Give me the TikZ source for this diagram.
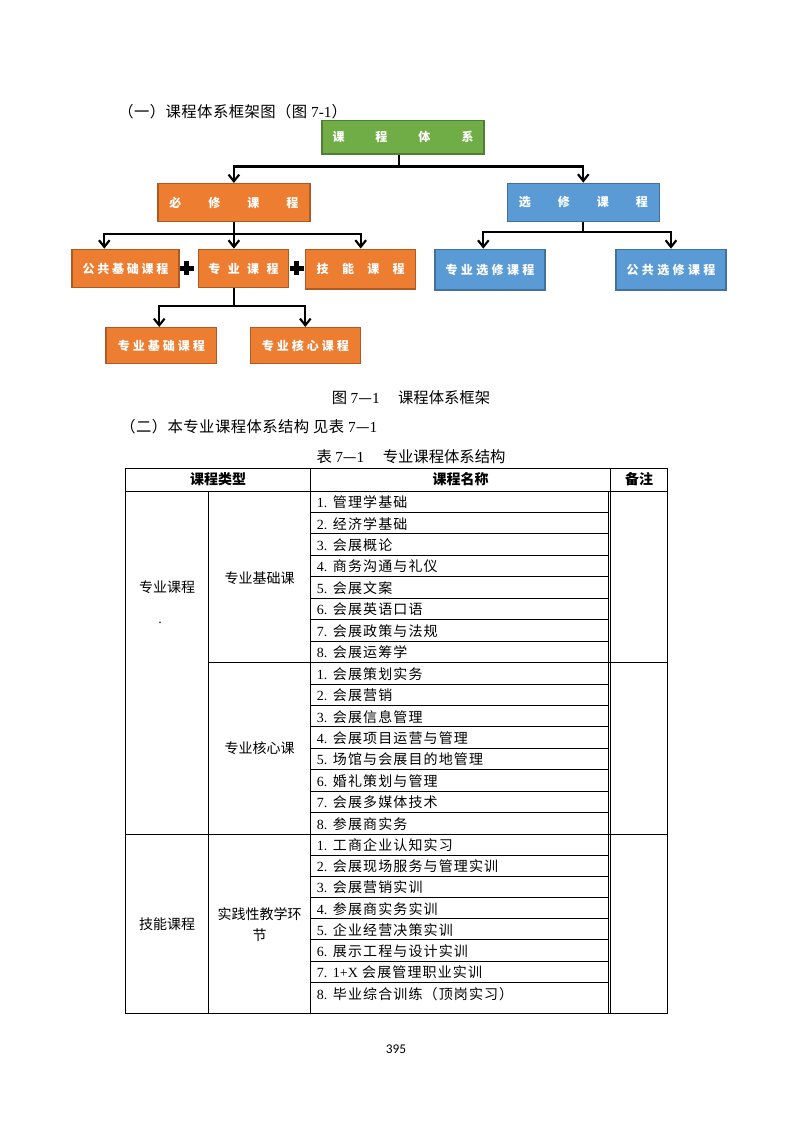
\documentclass[tikz,border=0pt]{standalone}
\usepackage{fontspec}
\setmainfont{Liberation Serif}
\newfontfamily\cjk{Noto Sans CJK SC}
\newfontfamily\cjkls[LetterSpace=8]{Noto Sans CJK SC}
\newfontfamily\cjklt[LetterSpace=3]{Noto Sans CJK SC}
\newfontfamily\pgnum{Carlito}
\usetikzlibrary{arrows.meta}
\definecolor{grn}{HTML}{70AD47}\definecolor{grnb}{HTML}{507E32}
\definecolor{org}{HTML}{ED7D31}\definecolor{orgb}{HTML}{AE5A21}
\definecolor{blu}{HTML}{5B9BD5}\definecolor{blub}{HTML}{41719C}
\makeatletter
\newcommand\lsp[2]{\def\lsp@gap{#1}\lsp@first#2\relax}
\def\lsp@first#1{#1\lsp@next}
\def\lsp@next#1{\ifx#1\relax\else\hspace{\lsp@gap}#1\expandafter\lsp@next\fi}
\makeatother
\begin{document}
\begin{tikzpicture}[x=0.75pt,y=-0.75pt,
  box/.style={draw, line width=1.1pt, inner sep=0, text=white,
    font=\cjk\bfseries\fontsize{9}{9}\selectfont},
  gbox/.style={box, fill=grn, draw=grnb},
  obox/.style={box, fill=org, draw=orgb},
  bbox/.style={box, fill=blu, draw=blub},
  bus/.style={line width=1.6pt},
  conn/.style={line width=1.6pt, -{Straight Barb[length=5pt,width=8pt]}},
  txt/.style={inner sep=0, font=\cjk\fontsize{11.5}{13}\selectfont},
  cell/.style={inner sep=0, align=center, font=\cjk\fontsize{10.5}{15.75}\selectfont},
  hdr/.style={inner sep=0, font=\cjk\bfseries\fontsize{10.5}{12}\selectfont},
  item/.style={inner sep=0, anchor=west, font=\cjkls\fontsize{10.5}{12}\selectfont},
  tline/.style={line width=0.75pt},
  crossmark/.style={fill=black}]
\fill[white] (0,0) rectangle (793,1122);

% ---------- heading ----------
\node[txt, font=\cjklt\fontsize{11.5}{13}\selectfont, anchor=west] (title1) at (118,111.7) {（一）课程体系框架图（图 {\rmfamily 7-1}）};

% ---------- framework boxes ----------
\node[gbox, minimum width=121.5pt, minimum height=25pt] (root) at (403,137.3) {\lsp{23.25pt}{课程体系}};
\node[obox, minimum width=114.2pt, minimum height=28.5pt] (bixiu) at (233.9,202.7) {\lsp{20.25pt}{必修课程}};
\node[bbox, minimum width=114pt, minimum height=28.8pt] (xuanxiu) at (583.3,202.5) {\lsp{20.25pt}{选修课程}};
\node[obox, minimum width=80.25pt, minimum height=28.8pt] (gjjc) at (125.5,268.5) {\lsp{2.1pt}{公共基础课程}};
\node[obox, minimum width=67.8pt, minimum height=28.8pt] (zykc) at (243.5,268.5) {\lsp{5.6pt}{专业课程}};
\node[obox, minimum width=82.5pt, minimum height=29.8pt] (jnkc) at (360.7,269.1) {\lsp{10pt}{技能课程}};
\node[bbox, minimum width=82.5pt, minimum height=30.5pt] (zyxx) at (490,269.7) {\lsp{2.5pt}{专业选修课程}};
\node[bbox, minimum width=82.5pt, minimum height=30.5pt] (ggxx) at (671,269.7) {\lsp{2.5pt}{公共选修课程}};
\node[obox, minimum width=83pt, minimum height=26.7pt] (zyjc) at (161.4,345.5) {\lsp{2.25pt}{专业基础课程}};
\node[obox, minimum width=82.5pt, minimum height=26.7pt] (zyhx) at (305.3,345.5) {\lsp{2.25pt}{专业核心课程}};

% plus marks
\fill[crossmark] (186.7,268.3) ++(-7,-2.6) rectangle ++(14,5.2);
\fill[crossmark] (186.7,268.3) ++(-2.6,-7) rectangle ++(5.2,14);
\fill[crossmark] (296.7,268.3) ++(-7,-2.6) rectangle ++(14,5.2);
\fill[crossmark] (296.7,268.3) ++(-2.6,-7) rectangle ++(5.2,14);

% connectors
\coordinate (b1) at (399,166.5);
\draw[bus] (b1 |- root.south) -- (b1);
\draw[conn] (b1) -| (bixiu.north);
\draw[conn] (b1) -| (xuanxiu.north);

\coordinate (b2) at (233.5,233.7);
\draw[bus] (bixiu.south) -- (bixiu.south |- b2);
\draw[conn] (bixiu.south |- b2) -| ([xshift=-15.9pt]gjjc.north);
\draw[conn] (bixiu.south |- b2) -- (bixiu.south |- zykc.north);
\draw[conn] (bixiu.south |- b2) -| (jnkc.north);

\coordinate (b3) at (583,232);
\draw[bus] (xuanxiu.south) -- (xuanxiu.south |- b3);
\draw[conn] (xuanxiu.south |- b3) -| ([xshift=-5pt]zyxx.north);
\draw[conn] (xuanxiu.south |- b3) -| (ggxx.north);

\coordinate (b4) at (233.5,306);
\draw[bus] (bixiu.south |- zykc.south) -- (bixiu.south |- b4);
\draw[conn] (bixiu.south |- b4) -| ([xshift=-1.6pt]zyjc.north);
\draw[conn] (bixiu.south |- b4) -| (zyhx.north);

% ---------- captions ----------
\node[txt] (cap1) at (411,398) {图 {\rmfamily 7}—{\rmfamily 1}\hspace{1.2em}课程体系框架};
\node[txt, font=\cjklt\fontsize{11.5}{13}\selectfont, anchor=west] (title2) at (120,426.7) {（二）本专业课程体系结构 见表 {\rmfamily 7}—{\rmfamily 1}};
\node[txt] (cap2) at (411,456.7) {表 {\rmfamily 7}—{\rmfamily 1}\hspace{1.2em}专业课程体系结构};

% ---------- table ----------
\draw[tline] (125.7,468) rectangle (667.7,1013.3);
\draw[tline] (125.7,491) -- (667.7,491);
\draw[tline] (208.7,662.7) -- (667.7,662.7);
\draw[tline] (125.7,834) -- (667.7,834);
\draw[tline] (208.7,491) -- (208.7,1013.3);
\draw[tline] (310.7,468) -- (310.7,1013.3);
\draw[tline] (610.7,468) -- (610.7,1013.3);
\draw[tline] (608.4,491) -- (608.4,1013.3);
\foreach \k in {1,...,7} {
  \draw[tline] (310.7,{491+\k*21.4625}) -- (608.4,{491+\k*21.4625});
  \draw[tline] (310.7,{662.7+\k*21.4125}) -- (608.4,{662.7+\k*21.4125});
  \draw[tline] (310.7,{834+\k*21.19}) -- (608.4,{834+\k*21.19});
}

\node[hdr] (h1) at (218,479.5) {课程类型};
\node[hdr] (h2) at (460.7,479.5) {课程名称};
\node[hdr] (h3) at (639.2,479.5) {备注};

\node[cell] (c1) at (167,587) {专业课程};
\node[cell, font=\rmfamily\fontsize{10.5}{12}\selectfont] (c1dot) at (160,623) {.};
\node[cell] (c2) at (259.7,578) {专业基础课};
\node[cell] (c3) at (259.7,748.5) {专业核心课};
\node[cell] (c4) at (167,924.5) {技能课程};
\node[cell] (c5) at (259.7,924.5) {实践性教学环\\节};

\foreach \t [count=\i] in {管理学基础,经济学基础,会展概论,商务沟通与礼仪,会展文案,会展英语口语,会展政策与法规,会展运筹学}
  \node[item] (s1-\i) at (316.5,{491+(\i-0.5)*21.4625+0.5}) {{\rmfamily\i.} \t};
\foreach \t [count=\i] in {会展策划实务,会展营销,会展信息管理,会展项目运营与管理,场馆与会展目的地管理,婚礼策划与管理,会展多媒体技术,参展商实务}
  \node[item] (s2-\i) at (316.5,{662.7+(\i-0.5)*21.4125+0.5}) {{\rmfamily\i.} \t};
\foreach \t [count=\i] in {工商企业认知实习,会展现场服务与管理实训,会展营销实训,参展商实务实训,企业经营决策实训,展示工程与设计实训,{{\rmfamily 1+X} 会展管理职业实训}}
  \node[item] (s3-\i) at (316.5,{834+(\i-0.5)*21.19+0.5}) {{\rmfamily\i.} \t};
\node[item] (s3-8) at (316.5,994.5) {{\rmfamily 8.} 毕业综合训练（顶岗实习）};

\node[inner sep=0, font=\pgnum\fontsize{10}{11}\selectfont] (pg) at (396,1049) {395};
\end{tikzpicture}
\end{document}
